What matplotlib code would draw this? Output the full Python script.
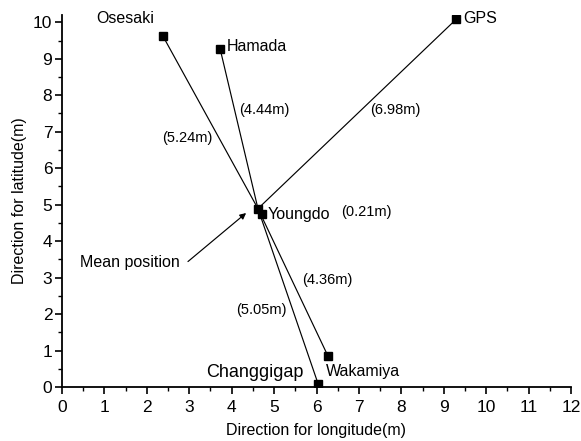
import matplotlib
matplotlib.use("Agg")
import matplotlib.pyplot as plt
from matplotlib.ticker import MultipleLocator

plt.rcParams['font.family'] = ['Liberation Sans', 'DejaVu Sans']

# Data
stations = ["Osesaki", "Hamada", "GPS", "Youngdo", "Wakamiya", "Changgigap"]
st_x = [2.38, 3.73, 9.29, 4.72, 6.27, 6.04]
st_y = [9.62, 9.26, 10.08, 4.73, 0.85, 0.08]
mean_x = 4.62
mean_y = 4.89
distances = ["(5.24m)", "(4.44m)", "(6.98m)", "(0.21m)", "(4.36m)", "(5.05m)"]
dist_x = [2.95, 4.76, 7.85, 7.17, 6.25, 4.71]
dist_y = [6.82, 7.59, 7.59, 4.79, 2.93, 2.11]

# label styling (offsets in points, alignment, size)
label_style = {
    "Osesaki":    dict(off=(-27, 13), ha="center", va="center", size=11.5),
    "Hamada":     dict(off=(5, 2), ha="left", va="center", size=11.5),
    "GPS":        dict(off=(5.5, 0.5), ha="left", va="center", size=11.5),
    "Youngdo":    dict(off=(4, 0), ha="left", va="center", size=11.5),
    "Wakamiya":   dict(off=(-1.5, -11.5), ha="left", va="center", size=11.5),
    "Changgigap": dict(off=(-10.5, 8), ha="right", va="center", size=13),
}

fig = plt.figure(figsize=(5.81, 4.41), dpi=100)
ax = fig.add_axes([62/581, 1-387/441, (571-62)/581, (387-15)/441])

# lines from each station to mean position (Youngdo itself excluded)
for name, x, y in zip(stations, st_x, st_y):
    if name == "Youngdo":
        continue
    ax.plot([mean_x, x], [mean_y, y], color="black", lw=0.85, zorder=2)

ax.plot(st_x, st_y, linestyle="none", marker="s", ms=6, color="black", zorder=3)
ax.plot([mean_x], [mean_y], linestyle="none", marker="s", ms=6, color="black", zorder=3)

for name, x, y in zip(stations, st_x, st_y):
    s = label_style[name]
    ax.annotate(name, (x, y), xytext=s["off"], textcoords="offset points",
                ha=s["ha"], va=s["va"], fontsize=s["size"])

for t, x, y in zip(distances, dist_x, dist_y):
    ax.text(x, y, t, ha="center", va="center", fontsize=10.5)

ax.text(1.60, 3.40, "Mean position", ha="center", va="center", fontsize=11.5)
ax.annotate("", xy=(4.34, 4.77), xytext=(2.97, 3.44),
            arrowprops=dict(arrowstyle="-|>", color="black", lw=0.85,
                            shrinkA=0, shrinkB=0, mutation_scale=9))

ax.set_xlim(0, 12)
ax.set_ylim(0, 10.2)
ax.xaxis.set_major_locator(MultipleLocator(1))
ax.xaxis.set_minor_locator(MultipleLocator(0.5))
ax.yaxis.set_major_locator(MultipleLocator(1))
ax.yaxis.set_minor_locator(MultipleLocator(0.5))
ax.spines["top"].set_visible(False)
ax.spines["right"].set_visible(False)
for sp in ("left", "bottom"):
    ax.spines[sp].set_linewidth(1.3)
ax.tick_params(which="major", direction="out", length=5, width=1.2, labelsize=12.5)
ax.tick_params(axis="x", which="major", pad=4)
ax.tick_params(axis="y", which="major", pad=2)
ax.tick_params(which="minor", direction="out", length=3, width=1.0)
ax.set_xlabel("Direction for longitude(m)", fontsize=11.5, labelpad=6)
ax.set_ylabel("Direction for latitude(m)", fontsize=11.5, labelpad=4)

fig.savefig("out.png", dpi=100)
